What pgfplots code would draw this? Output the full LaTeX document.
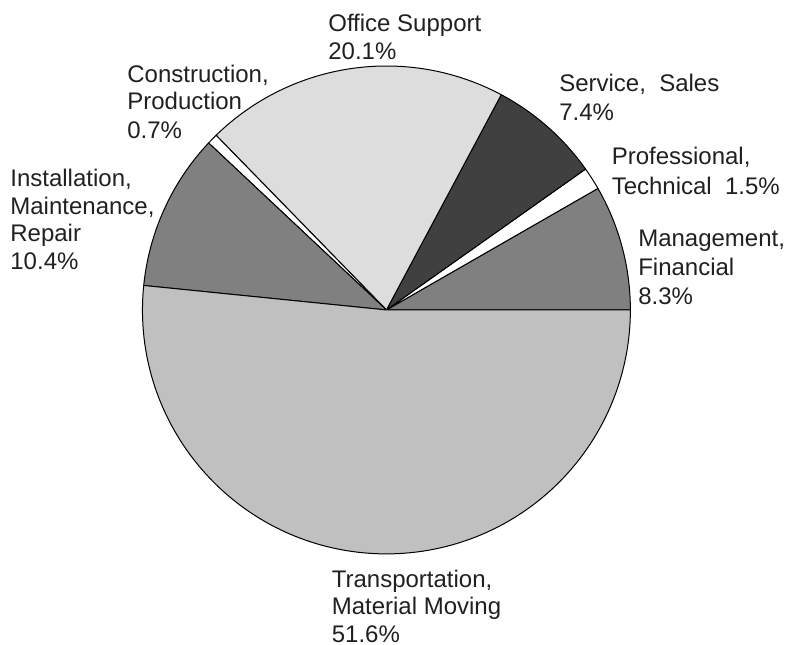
\documentclass[border=0pt]{standalone}
\usepackage{pgfplots}
\pgfplotsset{compat=1.18}
\usepackage{fontspec}
\setmainfont{Liberation Sans}

\definecolor{gMgmt}{HTML}{808080}
\definecolor{gServ}{HTML}{404040}
\definecolor{gOffice}{HTML}{DDDDDD}
\definecolor{gInst}{HTML}{808080}
\definecolor{gTrans}{HTML}{C0C0C0}
\definecolor{txt}{HTML}{231F20}

% label line: x, y (pixel coords, y from bottom), text
\newcommand{\lab}[3]{\node[anchor=base west,inner sep=0pt,text=txt,font=\fontsize{12pt}{14pt}\selectfont] at (axis cs:#1,#2) {#3};}

\begin{document}
\begin{tikzpicture}
\begin{axis}[x=0.5pt,y=0.5pt,xmin=0,xmax=785,ymin=0,ymax=645,hide axis,clip=false]
\path (axis cs:0,0) rectangle (axis cs:785,645);
% shares in percent, counterclockwise from 0 degrees
\xdef\cum{0}
\foreach \v/\col in {8.3/gMgmt,1.5/white,7.4/gServ,20.1/gOffice,0.7/white,10.4/gInst,51.6/gTrans}{
  \pgfmathsetmacro\a{\cum*3.6}
  \pgfmathsetmacro\d{\v*3.6}
  \edef\temp{\noexpand\filldraw[fill=\col,draw=black,line width=0.5pt,line join=round]
    (axis cs:386.5,335) -- ++(\a:122pt) arc[start angle=\a,delta angle=\d,radius=122pt] -- cycle;}
  \temp
  \pgfmathsetmacro\n{\cum+\v}
  \xdef\cum{\n}
}
\lab{328}{613.3}{Office Support}
\lab{328}{585}{20.1\%}
\lab{127}{562.3}{Construction,}
\lab{127}{535}{Production}
\lab{127}{506}{0.7\%}
\lab{559}{553.3}{Service,\ \ Sales}
\lab{559}{524}{7.4\%}
\lab{611.5}{480}{Professional,}
\lab{611.5}{450.7}{Technical\ \ 1.5\%}
\lab{638}{398.3}{Management,}
\lab{638}{369}{Financial}
\lab{638}{340}{8.3\%}
\lab{10}{458.3}{Installation,}
\lab{10}{430.7}{Maintenance,}
\lab{10}{403.3}{Repair}
\lab{10}{375}{10.4\%}
\lab{331.5}{57.7}{Transportation,}
\lab{331.5}{30}{Material Moving}
\lab{331.5}{2.7}{51.6\%}
\end{axis}
\end{tikzpicture}
\end{document}
